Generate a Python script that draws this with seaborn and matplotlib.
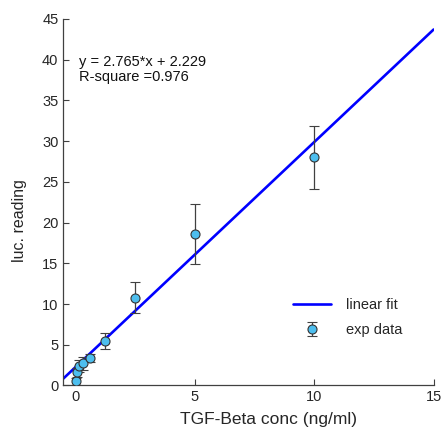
import numpy as np
import matplotlib
matplotlib.use('Agg')
import matplotlib.pyplot as plt
import seaborn as sns

# TGF-Beta dilution series (ng/ml) and luciferase readings
conc = [0.039, 0.078, 0.156, 0.3125, 0.625, 1.25, 2.5, 5, 10]
reading = [0.5, 1.6, 2.4, 2.7, 3.4, 5.5, 10.8, 18.6, 28.0]
reading_err = [0.4, 0.5, 0.7, 0.8, 0.5, 1.0, 1.95, 3.7, 3.85]

# linear fit reported on the chart
slope = 2.765
intercept = 2.229
r_square = 0.976
fit_x = np.array([-0.5, 15])
fit_y = slope * fit_x + intercept

sns.set_style('ticks')
plt.rcParams['font.family'] = ['Liberation Sans', 'DejaVu Sans']

fig = plt.figure(figsize=(4.44, 4.40), dpi=100)
ax = fig.add_axes([0.1426, 0.1239, 0.834, 0.833])

sns.lineplot(x=fit_x, y=fit_y, color='#0000FF', linewidth=1.9, ax=ax,
             label='linear fit')
ax.errorbar(conc, reading, yerr=reading_err, fmt='o', color='#404040',
            markerfacecolor='#4DBEEE', markeredgecolor='#333333',
            markersize=6.5, markeredgewidth=0.8, elinewidth=0.9,
            capsize=3.5, capthick=0.9, label='exp data', zorder=3)

ax.set_xlim(-0.5, 15)
ax.set_ylim(0, 45)
ax.set_xticks([0, 5, 10, 15])
ax.set_yticks(range(0, 46, 5))
ax.set_xlabel('TGF-Beta conc (ng/ml)', fontsize=12.5, color='#262626')
ax.set_ylabel('luc. reading', fontsize=11.5, color='#262626')
ax.xaxis.set_label_coords(0.555, -0.073)
ax.yaxis.set_label_coords(-0.098, 0.45)
ax.tick_params(direction='in', length=4, width=0.8, color='#404040',
               labelsize=10.5, labelcolor='#262626')
sns.despine(ax=ax)
for s in ['left', 'bottom']:
    ax.spines[s].set_color('#404040')
    ax.spines[s].set_linewidth(0.9)

ax.text(0.15, 40.6, f'y = {slope}*x + {intercept}\nR-square ={r_square}',
        fontsize=10.5, va='top', ha='left', linespacing=1.1, color='#111111')

ax.legend(loc='center left', bbox_to_anchor=(0.585, 0.185), frameon=False,
          fontsize=10.5, handlelength=2.6, handletextpad=1.0, labelspacing=0.75)

fig.savefig('out.png', dpi=100)
